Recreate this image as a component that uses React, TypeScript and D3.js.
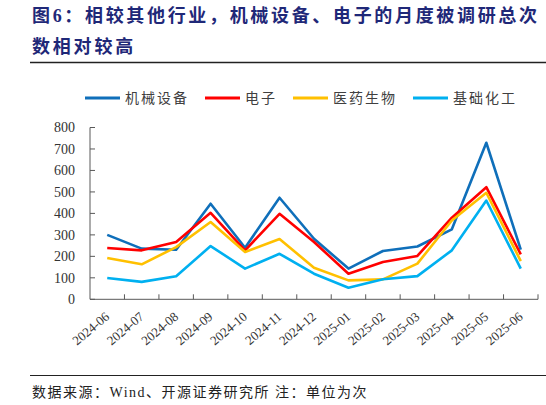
import React from 'react';
import * as d3 from 'd3';

const months = ['2024-06', '2024-07', '2024-08', '2024-09', '2024-10', '2024-11', '2024-12',
  '2025-01', '2025-02', '2025-03', '2025-04', '2025-05', '2025-06'];
const machinery = [300, 236, 231, 445, 240, 473, 282, 143, 225, 246, 326, 729, 231];
const electronics = [239, 228, 267, 403, 228, 398, 267, 119, 174, 202, 380, 522, 209];
const pharma = [192, 163, 243, 360, 220, 281, 147, 88, 93, 166, 367, 496, 178];
const chemicals = [99, 81, 107, 248, 143, 212, 119, 54, 93, 108, 228, 460, 143];
const seriesNames = ['机械设备', '电子', '医药生物', '基础化工'];
const seriesColors = ['#0f6fba', '#ff0000', '#ffc000', '#00b0f0'];
const yTicks = [0, 100, 200, 300, 400, 500, 600, 700, 800];

const W = 546;
const H = 405;
const serif = "'Liberation Serif', 'Noto Sans CJK SC', serif";

const App: React.FC = () => {
  const x = d3.scaleBand<string>().domain(months).range([90, 538]).padding(0);
  const y = d3.scaleLinear().domain([0, 800]).range([299.3, 127.5]);
  const cx = (m: string) => (x(m) ?? 0) + x.bandwidth() / 2;

  const line = d3.line<number>()
    .x((_, i) => cx(months[i]))
    .y(d => y(d));

  const series = [machinery, electronics, pharma, chemicals];

  // legend layout: line 35px, gap 5px, text pitch 16px per char
  let lx = 85;
  const legend = seriesNames.map((name, i) => {
    const item = { name, color: seriesColors[i], x: lx };
    lx += 35 + 5 + name.length * 16 + 16;
    return item;
  });

  return (
    <svg width={W} height={H} style={{ position: 'absolute', left: 0, top: 0, background: '#fff' }}>
      {/* title */}
      <g fill="#1f2878" fontFamily={serif} fontWeight="bold" fontSize={18}>
        <text x={32} y={22} textLength={505} lengthAdjust="spacing">图6：相较其他行业，机械设备、电子的月度被调研总次</text>
        <text x={32} y={53} letterSpacing={2.8}>数相对较高</text>
      </g>
      <line x1={30} x2={546} y1={62.5} y2={62.5} stroke="#222" strokeWidth={1.5} />

      {/* legend */}
      {legend.map(l => (
        <g key={l.name}>
          <line x1={l.x} x2={l.x + 35} y1={98} y2={98} stroke={l.color} strokeWidth={3} />
          <text x={l.x + 40} y={103} fontSize={14} letterSpacing={2} fill="#404040" fontFamily={serif}>
            {l.name}
          </text>
        </g>
      ))}

      {/* y axis */}
      <line x1={90} x2={90} y1={y(800)} y2={y(0)} stroke="#595959" strokeWidth={1} />
      {yTicks.map(t => (
        <g key={t}>
          <line x1={90} x2={95} y1={y(t)} y2={y(t)} stroke="#595959" />
          <text x={75} y={y(t)} dy="0.35em" textAnchor="end" fontSize={14} fill="#333" fontFamily={serif}>
            {t}
          </text>
        </g>
      ))}

      {/* x axis */}
      <line x1={90} x2={538} y1={y(0)} y2={y(0)} stroke="#595959" strokeWidth={1} />
      {months.map(m => (
        <g key={m}>
          <line x1={(x(m) ?? 0) + x.bandwidth()} x2={(x(m) ?? 0) + x.bandwidth()}
            y1={y(0)} y2={y(0) - 5} stroke="#595959" />
          <text transform={`translate(${cx(m) + 3},${318}) rotate(-40)`} textAnchor="end"
            fontSize={13} fill="#333" fontFamily={serif}>
            {m}
          </text>
        </g>
      ))}

      {/* series */}
      {series.map((s, i) => (
        <path key={seriesNames[i]} d={line(s) ?? ''} fill="none" stroke={seriesColors[i]}
          strokeWidth={2.6} strokeLinejoin="round" />
      ))}

      {/* footer */}
      <line x1={30} x2={546} y1={375.5} y2={375.5} stroke="#222" strokeWidth={1.2} />
      <text x={32} y={397} fontSize={14} letterSpacing={1.5} fill="#222" fontFamily={serif}>
        数据来源：Wind、开源证券研究所 注：单位为次
      </text>
    </svg>
  );
};

export default App;
